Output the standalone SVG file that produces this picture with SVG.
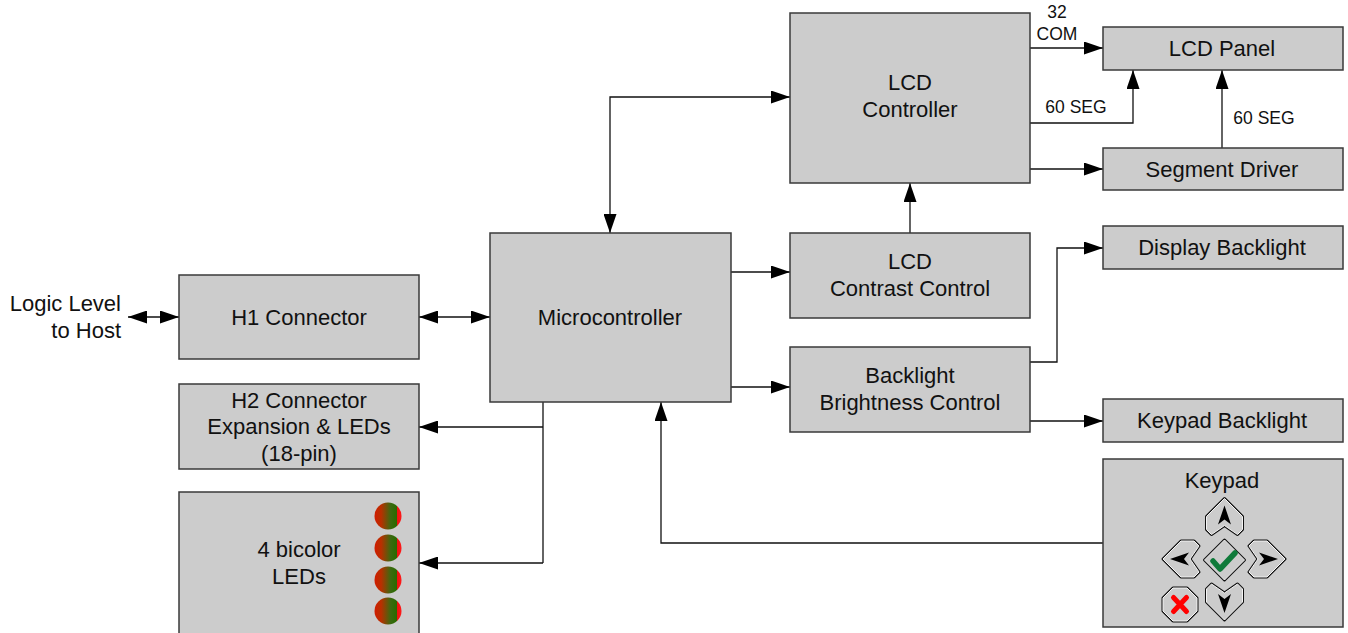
<svg xmlns="http://www.w3.org/2000/svg" width="1348" height="633" viewBox="0 0 1348 633">
<style>
.box{fill:#cccccc;stroke:#3a3a3a;stroke-width:1.5}
.t{font-family:"Liberation Sans",Arial,sans-serif;font-size:22px;fill:#111;text-anchor:middle}
.s{font-family:"Liberation Sans",Arial,sans-serif;font-size:17.5px;fill:#111;text-anchor:middle}
.c{fill:none;stroke:#111;stroke-width:1.3}
.btn-o{fill:none;stroke:#111;stroke-width:3;stroke-linejoin:round}
.btn-i{fill:#cccccc;stroke:#f4f4f4;stroke-width:1;stroke-linejoin:round}
</style>
<defs>
<marker id="ah" viewBox="0 0 19 13" refX="19" refY="6.5" markerWidth="19" markerHeight="13" markerUnits="userSpaceOnUse" orient="auto-start-reverse">
<path d="M0,0 L19,6.5 L0,13 z" fill="#000"/>
</marker>
<linearGradient id="led" x1="0" y1="0" x2="1" y2="0">
<stop offset="0" stop-color="#d01c00"/>
<stop offset="0.25" stop-color="#b83000"/>
<stop offset="0.6" stop-color="#3a6a10"/>
<stop offset="0.82" stop-color="#2a6a00"/>
<stop offset="0.84" stop-color="#ee1010"/>
<stop offset="1" stop-color="#ff1a1a"/>
</linearGradient>
<g id="arrowbtn">
<path class="btn-o" d="M0,-18 L18,0 L18,13 L13,18 L0,9 L-13,18 L-18,13 L-18,0 Z"/>
<path class="btn-i" d="M0,-18 L18,0 L18,13 L13,18 L0,9 L-13,18 L-18,13 L-18,0 Z"/>
<path d="M0,-11 L6.5,8 L0,3 L-6.5,8 Z" fill="#000"/>
</g>
</defs>
<rect width="1348" height="633" fill="#fff"/>

<g id="connectors">
<path class="c" d="M128,317 H179" marker-start="url(#ah)" marker-end="url(#ah)"/>
<path class="c" d="M419,317 H490" marker-start="url(#ah)" marker-end="url(#ah)"/>
<path class="c" d="M610,233 V97 H790" marker-start="url(#ah)" marker-end="url(#ah)"/>
<path class="c" d="M731,272 H790" marker-end="url(#ah)"/>
<path class="c" d="M731,387 H790" marker-end="url(#ah)"/>
<path class="c" d="M910,233 V183" marker-end="url(#ah)"/>
<path class="c" d="M1030,48 H1103" marker-end="url(#ah)"/>
<path class="c" d="M1030,123 H1133 V70" marker-end="url(#ah)"/>
<path class="c" d="M1030,169 H1103" marker-end="url(#ah)"/>
<path class="c" d="M1222,148 V70" marker-end="url(#ah)"/>
<path class="c" d="M1030,362 H1057 V248 H1103" marker-end="url(#ah)"/>
<path class="c" d="M1030,421 H1103" marker-end="url(#ah)"/>
<path class="c" d="M1103,543 H661 V402" marker-end="url(#ah)"/>
<path class="c" d="M543,402 V563"/>
<path class="c" d="M543,427 H419" marker-end="url(#ah)"/>
<path class="c" d="M543,563 H419" marker-end="url(#ah)"/>
<text class="s" x="1057" y="18">32</text>
<text class="s" x="1057" y="40">COM</text>
<text class="s" x="1076" y="113">60 SEG</text>
<text class="s" x="1264" y="124">60 SEG</text>
</g>

<g id="host-label">
<text class="t" x="121" y="311" style="text-anchor:end">Logic Level</text>
<text class="t" x="121" y="338" style="text-anchor:end">to Host</text>
</g>

<g id="h1">
<rect class="box" x="179" y="275" width="240" height="84"/>
<text class="t" x="299" y="325">H1 Connector</text>
</g>

<g id="h2">
<rect class="box" x="179" y="384" width="240" height="85"/>
<text class="t" x="299" y="408">H2 Connector</text>
<text class="t" x="299" y="434">Expansion &amp; LEDs</text>
<text class="t" x="299" y="461">(18-pin)</text>
</g>

<g id="leds">
<rect class="box" x="179" y="492" width="240" height="150"/>
<text class="t" x="299" y="557">4 bicolor</text>
<text class="t" x="299" y="584">LEDs</text>
<circle cx="388" cy="516" r="13.5" fill="url(#led)"/>
<circle cx="388" cy="548" r="13.5" fill="url(#led)"/>
<circle cx="388" cy="580" r="13.5" fill="url(#led)"/>
<circle cx="388" cy="611" r="13.5" fill="url(#led)"/>
</g>

<g id="mcu">
<rect class="box" x="490" y="233" width="241" height="169"/>
<text class="t" x="610" y="325">Microcontroller</text>
</g>

<g id="lcdctrl">
<rect class="box" x="790" y="13" width="240" height="170"/>
<text class="t" x="910" y="90">LCD</text>
<text class="t" x="910" y="117">Controller</text>
</g>

<g id="contrast">
<rect class="box" x="790" y="233" width="240" height="85"/>
<text class="t" x="910" y="269">LCD</text>
<text class="t" x="910" y="296">Contrast Control</text>
</g>

<g id="brightness">
<rect class="box" x="790" y="347" width="240" height="85"/>
<text class="t" x="910" y="383">Backlight</text>
<text class="t" x="910" y="410">Brightness Control</text>
</g>

<g id="lcdpanel">
<rect class="box" x="1103" y="27" width="240" height="43"/>
<text class="t" x="1222" y="56">LCD Panel</text>
</g>

<g id="segdriver">
<rect class="box" x="1103" y="148" width="240" height="42"/>
<text class="t" x="1222" y="177">Segment Driver</text>
</g>

<g id="dispbl">
<rect class="box" x="1103" y="226" width="240" height="43"/>
<text class="t" x="1222" y="255">Display Backlight</text>
</g>

<g id="keybl">
<rect class="box" x="1103" y="399" width="240" height="43"/>
<text class="t" x="1222" y="428">Keypad Backlight</text>
</g>

<g id="keypad">
<rect class="box" x="1103" y="459" width="240" height="168"/>
<text class="t" x="1222" y="488">Keypad</text>
<use href="#arrowbtn" transform="translate(1224.5,516.5)"/>
<use href="#arrowbtn" transform="translate(1181,559) rotate(-90)"/>
<use href="#arrowbtn" transform="translate(1267,559) rotate(90)"/>
<use href="#arrowbtn" transform="translate(1224.5,602) rotate(180)"/>
<path class="btn-o" d="M1224.5,540 L1244.5,560 L1224.5,580 L1204.5,560 Z"/>
<path class="btn-i" d="M1224.5,540 L1244.5,560 L1224.5,580 L1204.5,560 Z"/>
<path d="M1213,561 L1220,569 L1235,553" fill="none" stroke="#0f7a3a" stroke-width="5.5" stroke-linecap="round" stroke-linejoin="round"/>
<path class="btn-o" d="M1173,588 L1187,588 L1197,598 L1197,611 L1187,621 L1173,621 L1163,611 L1163,598 Z"/>
<path class="btn-i" d="M1173,588 L1187,588 L1197,598 L1197,611 L1187,621 L1173,621 L1163,611 L1163,598 Z"/>
<path d="M1173.5,597.5 L1186.5,611.5 M1186.5,597.5 L1173.5,611.5" stroke="#ff0000" stroke-width="5" stroke-linecap="round"/>
</g>
</svg>
